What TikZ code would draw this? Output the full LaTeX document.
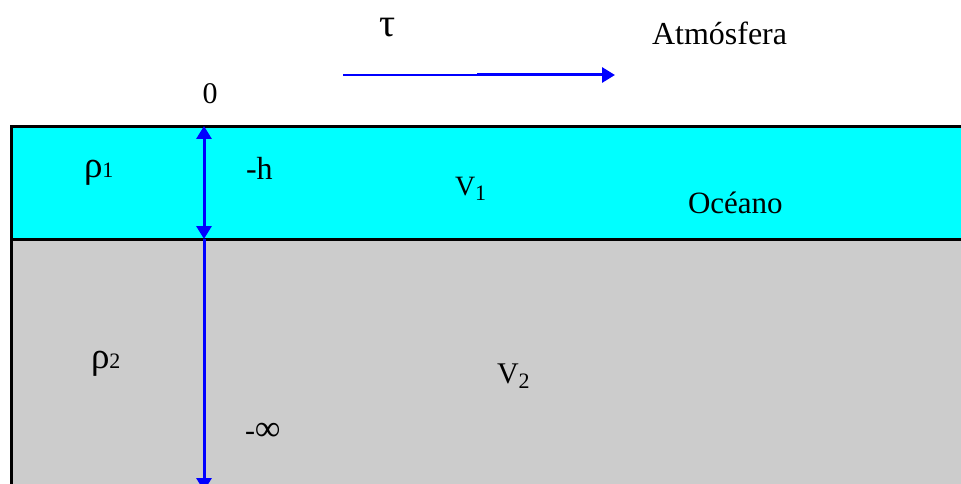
\documentclass[tikz,border=0pt]{standalone}
\usepackage{fontspec}
\setmainfont{Liberation Serif}
\usetikzlibrary{arrows.meta}
\definecolor{oceancyan}{RGB}{0,255,255}
\definecolor{deepgray}{RGB}{204,204,204}
\definecolor{arrowblue}{RGB}{0,0,255}
\tikzset{
  lbl/.style={anchor=base west,inner sep=0pt,outer sep=0pt,font=\fontsize{30}{36}\selectfont},
  bluearrow/.style={draw=arrowblue,line width=3pt,-{Triangle[length=13pt,width=15pt]}},
  bluedbl/.style={draw=arrowblue,line width=3pt,{Triangle[length=13pt,width=15pt]}-{Triangle[length=13pt,width=15pt]}},
  border/.style={draw=black,line width=3pt}
}
\newcommand{\sbs}[1]{{\fontsize{22}{26}\selectfont #1}}
\newcommand{\bigrho}{{\fontsize{37}{40}\selectfont ρ}}
\begin{document}
\begin{tikzpicture}[x=1pt,y=-1pt]
\useasboundingbox (0,0) rectangle (961,484);
\clip (0,0) rectangle (961,484);
% layers
\fill[oceancyan] (11,126) rectangle (970,239);
\fill[deepgray] (11,239) rectangle (970,495);
\draw[border] (970,127) -- (11,127) -- (11,495);
\draw[border] (11,239) -- (970,239);
% coordinates
\coordinate (surf) at (204,126);
\coordinate (interf) at (204,239);
\coordinate (deep) at (204,491);
\coordinate (windA) at (343,75);
\coordinate (windM) at (477,75);
\coordinate (windB) at (615,75);
% arrows
\draw[bluedbl] (surf) -- (interf);
\draw[bluearrow] (interf) -- (deep);
\draw[draw=arrowblue,line width=2pt] (windA) -- (windM);
\draw[bluearrow] (windM) -- (windB);
% labels
\node[lbl,font=\fontsize{40}{44}\selectfont] (tau) at (379,37) {τ};
\node[lbl,font=\fontsize{32}{38}\selectfont] (atm) at (652,45) {Atmósfera};
\node[lbl,anchor=base] (zero) at (210,104) {0};
\node[lbl] (rho1) at (84,178) {\bigrho\sbs{1}};
\node[lbl,font=\fontsize{32}{36}\selectfont] (mh) at (246,179) {-h};
\node[lbl,font=\fontsize{28}{34}\selectfont] (v1) at (455,195) {V\raisebox{-5pt}{\sbs{1}}};
\node[lbl,font=\fontsize{31}{36}\selectfont] (oc) at (688,213) {Océano};
\node[lbl] (rho2) at (91,368) {\bigrho\sbs{2}};
\node[lbl] (v2) at (497,383) {V\raisebox{-5pt}{\sbs{2}}};
\node[lbl] (minf) at (245,440) {-{\fontsize{36}{40}\selectfont ∞}};
\end{tikzpicture}
\end{document}
